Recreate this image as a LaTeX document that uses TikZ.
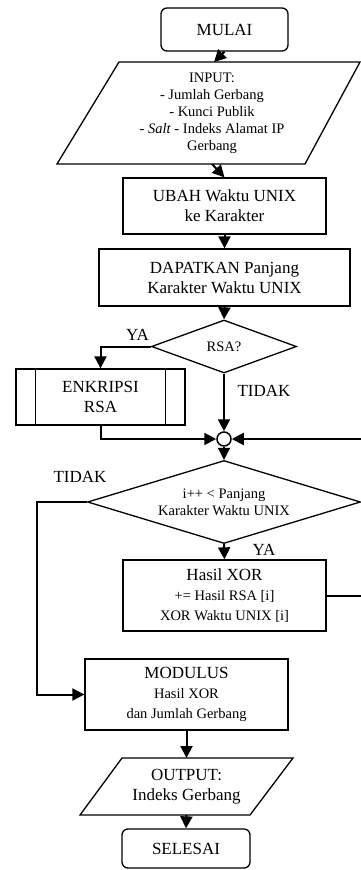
\documentclass[tikz,border=0pt]{standalone}
\usepackage{fontspec}
\setmainfont{Liberation Serif}
\usetikzlibrary{arrows.meta,shapes.geometric}
\newcommand\fbig{\fontsize{17}{20}\selectfont}
\newcommand\fsmall{\fontsize{14.5}{17}\selectfont}
\begin{document}
\begin{tikzpicture}[x=1pt,y=-1pt,
  shp/.style={draw,line width=1.3pt,line join=miter},
  box/.style={shp,rectangle,inner sep=0pt,align=center,font=\fbig},
  rbox/.style={box,rounded corners=6pt},
  dia/.style={shp,diamond,inner sep=0pt,align=center,font=\fsmall},
  ptext/.style={inner sep=0pt,align=center},
  lbl/.style={inner sep=0pt,font=\fbig},
  conn/.style={line width=2pt,-{Triangle[length=12pt,width=12pt]}},
  plain/.style={line width=2pt}]
\useasboundingbox (0,0) rectangle (361,870);

% start
\node[rbox,minimum width=127pt,minimum height=43pt] (mulai) at (224.5,29.5) {MULAI};

% input parallelogram
\draw[shp] (119,62) -- (360,62) -- (305,164) -- (57,164) -- cycle;
\node[ptext,font=\fsmall] (input) at (212,113) {INPUT:\\- Jumlah Gerbang\\- Kunci Publik\\- \textit{Salt} - Indeks Alamat IP\\Gerbang};
\coordinate (inTop) at (214,62);
\coordinate (inBot) at (212,164);

\node[box,minimum width=203pt,minimum height=56pt] (ubah) at (224.5,206) {UBAH Waktu UNIX\\ke Karakter};
\node[box,minimum width=251pt,minimum height=57pt] (dapat) at (224.5,277.5) {DAPATKAN Panjang\\Karakter Waktu UNIX};

\node[dia,minimum width=145pt,minimum height=53pt,aspect=2.7] (rsa) at (224,346.5) {RSA?};

\node[box,minimum width=169pt,minimum height=56pt] (enk) at (100.5,397) {ENKRIPSI\\RSA};
\draw[shp] ([xshift=20pt]enk.north west) -- ([xshift=20pt]enk.south west);
\draw[shp] ([xshift=-20pt]enk.north east) -- ([xshift=-20pt]enk.south east);

\node[draw,circle,line width=1.5pt,minimum size=14pt,inner sep=0pt] (join) at (224,439) {};

\node[dia,minimum width=273pt,minimum height=83pt,aspect=3.3] (dec) at (224,502) {i++ < Panjang\\Karakter Waktu UNIX};

\node[box,minimum width=203pt,minimum height=71pt] (hasil) at (224.5,595.5) {Hasil XOR\\{\fsmall += Hasil RSA [i]}\\{\fsmall XOR Waktu UNIX [i]}};

\node[box,minimum width=203pt,minimum height=71pt] (modulus) at (186.5,694.5) {MODULUS\\{\fsmall Hasil XOR}\\{\fsmall dan Jumlah Gerbang}};

% output parallelogram
\draw[shp] (122,758) -- (293,758) -- (250,815) -- (80,815) -- cycle;
\node[ptext,font=\fbig] (output) at (186.5,787) {OUTPUT:\\Indeks Gerbang};
\coordinate (outTop) at (186.5,758);
\coordinate (outBot) at (186.5,815);

\node[rbox,minimum width=128pt,minimum height=39pt] (selesai) at (186,848.5) {SELESAI};

% loop coordinates
\coordinate (rloop) at (366,439);
\coordinate (lloop) at (37,502);

% connectors
\draw[conn] (mulai.south) -- (inTop);
\draw[conn] (inBot) -- (ubah.north);
\draw[conn] (ubah.south) -- (dapat.north);
\draw[conn] (dapat.south) -- (rsa.north);
\draw[conn] (rsa.west) -| (enk.north);
\draw[conn] (rsa.south) -- (join.north);
\draw[conn] (enk.south) |- (join.west);
\draw[conn] (hasil.east) -| (rloop) -- (join.east);
\draw[conn] (join.south) -- (dec.north);
\draw[conn] (dec.south) -- (hasil.north);
\draw[conn] (dec.west) -- (lloop) |- (modulus.west);
\draw[conn] (modulus.south) -- (outTop);
\draw[conn] (outBot) -- (selesai.north);

% labels
\node[lbl] (ya1) at (137.5,335) {YA};
\node[lbl] (tidak1) at (264,391) {TIDAK};
\node[lbl] (tidak2) at (80,477) {TIDAK};
\node[lbl] (ya2) at (264,550) {YA};
\end{tikzpicture}
\end{document}
